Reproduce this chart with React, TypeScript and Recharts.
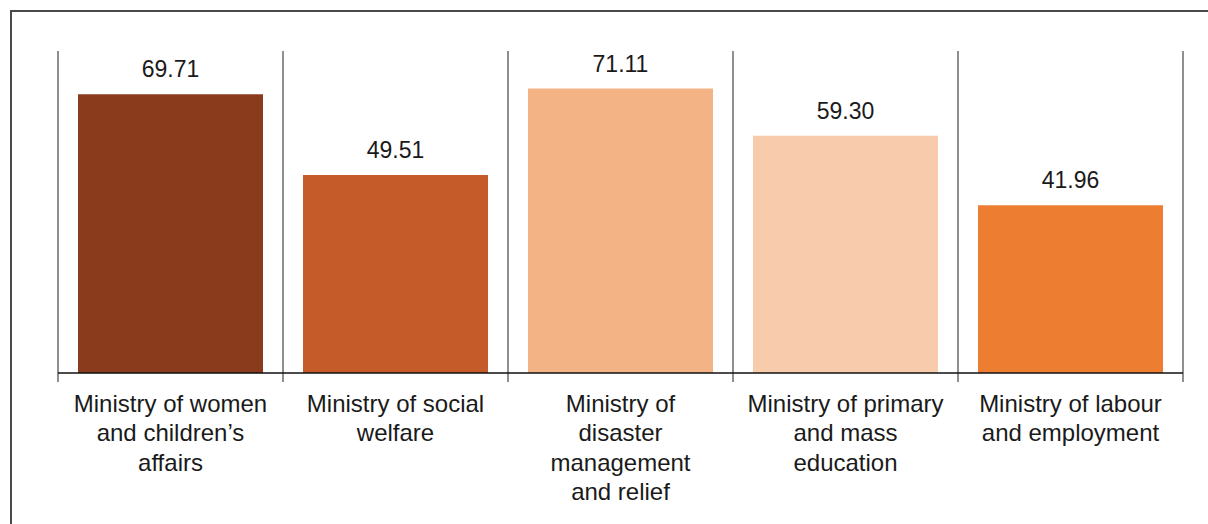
import React from 'react';
import { BarChart, Bar, XAxis, YAxis, CartesianGrid, ReferenceLine, LabelList, Cell } from 'recharts';

const categories = [
  'Ministry of women and children’s affairs',
  'Ministry of social welfare',
  'Ministry of disaster management and relief',
  'Ministry of primary and mass education',
  'Ministry of labour and employment',
];
const tickLines = [
  ['Ministry of women', 'and children’s', 'affairs'],
  ['Ministry of social', 'welfare'],
  ['Ministry of', 'disaster', 'management', 'and relief'],
  ['Ministry of primary', 'and mass', 'education'],
  ['Ministry of labour', 'and employment'],
];
const values = [69.71, 49.51, 71.11, 59.3, 41.96];
const colors = ['#893B1C', '#C45B28', '#F3B385', '#F8CBAD', '#ED7D31'];

const data = categories.map((c, i) => ({ name: c, idx: i, value: values[i] }));

const FONT = '"Liberation Sans", Arial, Helvetica, sans-serif';

const CategoryTick = (props: any) => {
  const { x, y, payload } = props;
  const lines = tickLines[payload.index] || [String(payload.value)];
  return (
    <text x={x} y={y} textAnchor="middle" fill="#1a1a1a" fontSize={24} fontFamily={FONT}>
      {lines.map((l: string, i: number) => (
        <tspan key={i} x={x} dy={i === 0 ? 21.5 : 29.5}>{l}</tspan>
      ))}
    </text>
  );
};

export default function App() {
  return (
    <div style={{ position: 'relative', width: 1208, height: 524, background: '#fff', overflow: 'hidden' }}>
      <style>{`html,body{margin:0;padding:0;overflow:hidden;background:#fff}`}</style>
      <div
        style={{
          position: 'absolute',
          left: 10,
          top: 10,
          width: 1198,
          height: 514,
          borderTop: '2px solid #4a4a4a',
          borderLeft: '2px solid #4a4a4a',
          boxSizing: 'border-box',
        }}
      />
      <div style={{ position: 'absolute', left: 0, top: 0 }}>
        <BarChart
          width={1208}
          height={524}
          data={data}
          margin={{ top: 51, right: 25, bottom: 12, left: 58 }}
          barCategoryGap={20}
        >
          <CartesianGrid
            horizontal={false}
            vertical={true}
            stroke="#6a6a6a"
            strokeWidth={1.5}
            verticalCoordinatesGenerator={({ offset }: any) =>
              categories.map((_, i) => offset.left + (i * offset.width) / categories.length).concat([offset.left + offset.width])
            }
          />
          <XAxis
            dataKey="name"
            axisLine={false}
            tickLine={false}
            interval={0}
            height={130}
            tick={<CategoryTick />}
          />
          <YAxis hide domain={[-2.25, 80.5]} allowDataOverflow type="number" />
          <ReferenceLine y={0} stroke="#111" strokeWidth={1.5} />
          <Bar dataKey="value" isAnimationActive={false}>
            {data.map((d, i) => (
              <Cell key={i} fill={colors[i]} />
            ))}
            <LabelList
              dataKey="value"
              position="top"
              offset={17}
              formatter={(v: any) => Number(v).toFixed(2)}
              style={{ fontSize: 23, fontFamily: FONT, fill: '#1a1a1a' }}
            />
          </Bar>
        </BarChart>
      </div>
    </div>
  );
}
